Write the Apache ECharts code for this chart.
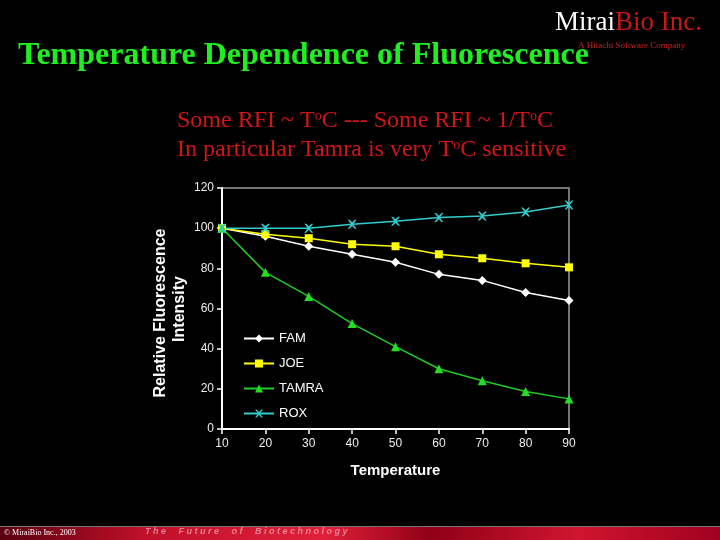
<!DOCTYPE html>
<html>
<head>
<meta charset="utf-8">
<script src="https://cdn.jsdelivr.net/npm/echarts@6/dist/echarts.min.js"></script>
<style>
html,body{margin:0;padding:0;background:#000;}
#c{width:720px;height:540px;}
</style>
</head>
<body>
<div id="c"></div>
<script>
var temperatures = [10, 20, 30, 40, 50, 60, 70, 80, 90];
var famValues   = [100, 96, 91, 87, 83, 77, 74, 68, 64];
var joeValues   = [100, 97, 95, 92, 91, 87, 85, 82.5, 80.5];
var tamraValues = [100, 78, 66, 52.5, 41, 30, 24, 18.7, 15];
var roxValues   = [100, 100, 100, 102, 103.5, 105.3, 106, 108, 111.5];
var seriesNames = ['FAM', 'JOE', 'TAMRA', 'ROX'];
var xTicks = [10, 20, 30, 40, 50, 60, 70, 80, 90];
var yTicks = [0, 20, 40, 60, 80, 100, 120];

function pairs(vals){ return temperatures.map(function(t,i){ return [t, vals[i]]; }); }
var crossPath = 'path://M0,0 L2,0 L5,3 L8,0 L10,0 L6,5 L10,10 L8,10 L5,7 L2,10 L0,10 L4,5 Z';

var chart = echarts.init(document.getElementById('c'));
var sans = '"Liberation Sans", Arial, sans-serif';
var serif = '"Liberation Serif", "Times New Roman", serif';
var subRich = {
  n: { fill: '#d01515', font: '24px ' + serif },
  s: { fill: '#d01515', font: '14px ' + serif, verticalAlign: 'top', padding: [0, 0, 10, 0] }
};
chart.setOption({
  backgroundColor: '#000',
  animation: false,
  grid: { left: 222, right: 151, top: 188, bottom: 111, show: true, borderColor: '#9a9a9a', borderWidth: 1.5 },
  xAxis: {
    type: 'value', min: xTicks[0], max: xTicks[xTicks.length-1], interval: 10,
    name: 'Temperature', nameLocation: 'middle', nameGap: 34,
    nameTextStyle: { color: '#fff', fontFamily: sans, fontWeight: 'bold', fontSize: 15 },
    axisLine: { lineStyle: { color: '#fff', width: 2 } },
    axisTick: { lineStyle: { color: '#fff', width: 1.5 }, length: 5 },
    axisLabel: { color: '#eee', fontFamily: sans, fontSize: 12, margin: 9 },
    splitLine: { show: false }
  },
  yAxis: {
    type: 'value', min: yTicks[0], max: yTicks[yTicks.length-1], interval: 20,
    axisLine: { show: true, lineStyle: { color: '#fff', width: 2 } },
    axisTick: { show: true, lineStyle: { color: '#fff', width: 1.5 }, length: 5 },
    axisLabel: { color: '#eee', fontFamily: sans, fontSize: 12, margin: 8 },
    splitLine: { show: false }
  },
  legend: {
    orient: 'vertical', left: 238, top: 327, itemGap: 12, itemWidth: 30, itemHeight: 10,
    textStyle: { color: '#fff', fontFamily: sans, fontSize: 13 },
    data: seriesNames
  },
  series: [
    { name: seriesNames[0], type: 'line', data: pairs(famValues), symbol: 'diamond', symbolSize: 9,
      itemStyle: { color: '#ffffff' }, lineStyle: { color: '#ffffff', width: 1.5 } },
    { name: seriesNames[1], type: 'line', data: pairs(joeValues), symbol: 'rect', symbolSize: 8,
      itemStyle: { color: '#ffff00' }, lineStyle: { color: '#ffff00', width: 1.5 } },
    { name: seriesNames[2], type: 'line', data: pairs(tamraValues), symbol: 'triangle', symbolSize: 9,
      itemStyle: { color: '#22dd22' }, lineStyle: { color: '#22cc22', width: 1.5 } },
    { name: seriesNames[3], type: 'line', data: pairs(roxValues), symbol: crossPath, symbolSize: 9,
      itemStyle: { color: '#33cccc' }, lineStyle: { color: '#33cccc', width: 1.5 } }
  ],
  graphic: [
    { type: 'text', x: 18, y: 56, style: { text: 'Temperature Dependence of Fluorescence', fill: '#1fef1f', font: 'bold 32px ' + serif, verticalAlign: 'middle' } },
    { type: 'text', x: 177, y: 121, style: { rich: subRich, text: '{n|Some RFI ~ T}{s|o}{n|C --- Some RFI ~ 1/T}{s|o}{n|C}', verticalAlign: 'middle' } },
    { type: 'text', x: 177, y: 150, style: { rich: subRich, text: '{n|In particular Tamra is very T}{s|o}{n|C sensitive}', verticalAlign: 'middle' } },
    { type: 'text', x: 555, y: 23, style: { rich: { w: { fill: '#fff', font: '27px ' + serif }, r: { fill: '#c81818', font: '27px ' + serif } }, text: '{w|Mirai}{r|Bio Inc.}', verticalAlign: 'middle' } },
    { type: 'text', x: 578, y: 46, style: { text: 'A Hitachi Software Company', fill: '#d02020', font: '9px ' + serif, verticalAlign: 'middle' } },
    { type: 'text', x: 161, y: 313, rotation: Math.PI/2, style: { text: 'Relative Fluorescence', fill: '#fff', font: 'bold 16px ' + sans, align: 'center', verticalAlign: 'middle' } },
    { type: 'text', x: 180, y: 309, rotation: Math.PI/2, style: { text: 'Intensity', fill: '#fff', font: 'bold 16px ' + sans, align: 'center', verticalAlign: 'middle' } },
    { type: 'rect', left: 0, top: 527, shape: { width: 720, height: 13 },
      style: { fill: new echarts.graphic.LinearGradient(0, 0, 1, 0, [
        { offset: 0, color: '#5a0010' }, { offset: 0.2, color: '#c0102a' }, { offset: 0.45, color: '#e0203a' },
        { offset: 0.6, color: '#900018' }, { offset: 0.8, color: '#d01530' }, { offset: 1, color: '#a00020' }]) } },
    { type: 'rect', left: 0, top: 526, shape: { width: 720, height: 1 }, style: { fill: '#777' } },
    { type: 'text', left: 145, top: 527, style: { text: 'T h e     F u t u r e     o f     B i o t e c h n o l o g y', fill: '#ffd0d8', opacity: 0.55, font: 'italic bold 9px ' + sans } },
    { type: 'text', left: 4, top: 529, style: { text: '\u00A9 MiraiBio Inc., 2003', fill: '#fff', font: '8px ' + serif } }
  ]
});
</script>
</body>
</html>
